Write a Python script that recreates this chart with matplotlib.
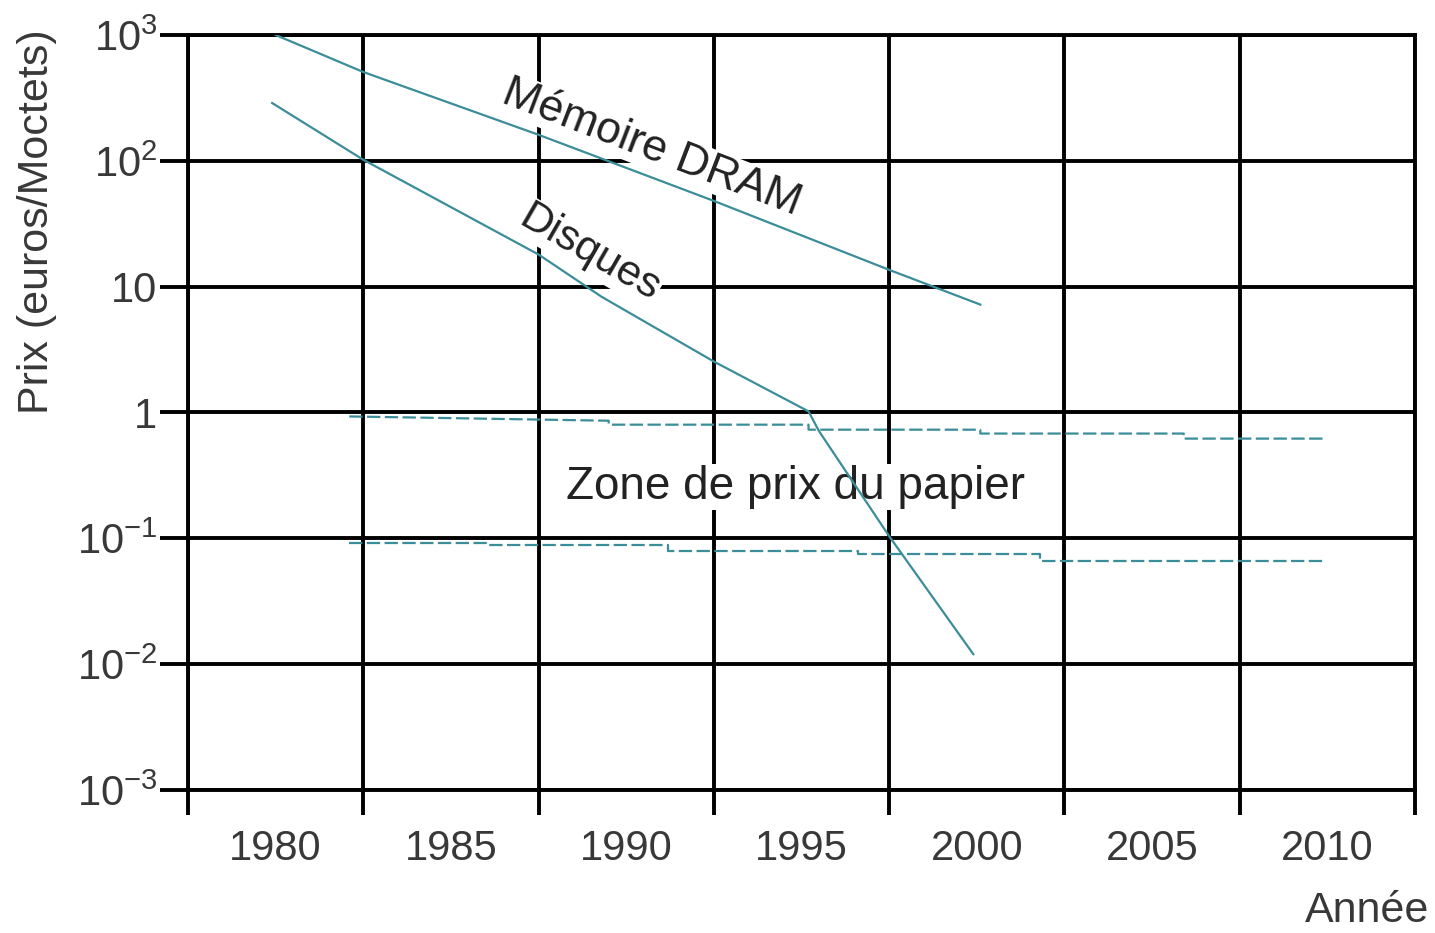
import matplotlib
matplotlib.use('Agg')
import matplotlib.pyplot as plt
from matplotlib.ticker import FixedLocator, NullLocator

plt.rcParams['font.family'] = ['Liberation Sans', 'DejaVu Sans']

# Mémoire DRAM (euros/Moctets)
dram_annees = [1980.0, 1982.5, 1987.5, 1992.5, 1997.5, 2000.1]
dram_prix = [1000, 508, 161, 48, 13.6, 7.2]

# Disques
disq_annees = [1979.9, 1982.5, 1987.5, 1989.3, 1992.5, 1995.2, 1995.5, 1997.5, 1999.9]
disq_prix = [288, 102, 18, 8.3, 2.54, 1.02, 0.71, 0.104, 0.012]

# Zone de prix du papier : limites haute et basse
pap_haut_annees = [1982.1, 1989.5, 1989.5, 1995.2, 1995.2, 2000.1, 2000.1, 2005.9, 2005.9, 2009.9]
pap_haut_prix = [0.93, 0.86, 0.80, 0.80, 0.73, 0.73, 0.68, 0.68, 0.62, 0.62]
pap_bas_annees = [1982.1, 1986.0, 1986.0, 1991.2, 1991.2, 1996.6, 1996.6, 2001.8, 2001.8, 2009.9]
pap_bas_prix = [0.091, 0.091, 0.088, 0.088, 0.079, 0.079, 0.075, 0.075, 0.066, 0.066]

annees_labels = [1980, 1985, 1990, 1995, 2000, 2005, 2010]
grille_x = [1977.5, 1982.5, 1987.5, 1992.5, 1997.5, 2002.5, 2007.5, 2012.5]
prix_ticks = [1e-3, 1e-2, 1e-1, 1, 10, 1e2, 1e3]
prix_labels = ['$\\mathregular{10^{-3}}$', '$\\mathregular{10^{-2}}$', '$\\mathregular{10^{-1}}$',
               '1', '10', '$\\mathregular{10^{2}}$', '$\\mathregular{10^{3}}$']

couleur = '#3a8d99'
gris = '#383838'
H = 933  # hauteur en pixels, pour placer les étiquettes depuis le haut

fig = plt.figure(figsize=(14.35, 9.33), dpi=100)
ax = fig.add_axes([0.1310, 0.1533, 0.8551, 0.8092])

ax.set_yscale('log')
ax.set_xlim(1977.5, 2012.5)
ax.set_ylim(1e-3, 1e3)

ax.plot(dram_annees, dram_prix, color=couleur, lw=1.6, zorder=4)
ax.plot(disq_annees, disq_prix, color=couleur, lw=1.6, zorder=4)
ax.plot(pap_haut_annees, pap_haut_prix, color=couleur, lw=1.6, ls=(0, (6, 2)), zorder=4)
ax.plot(pap_bas_annees, pap_bas_prix, color=couleur, lw=1.6, ls=(0, (6, 2)), zorder=4)

# grille et graduations
ax.xaxis.set_major_locator(FixedLocator(grille_x))
ax.xaxis.set_major_formatter(plt.NullFormatter())
ax.xaxis.set_minor_locator(FixedLocator(annees_labels))
ax.set_xticklabels([str(a) for a in annees_labels], minor=True)
ax.yaxis.set_major_locator(FixedLocator(prix_ticks))
ax.yaxis.set_minor_locator(NullLocator())
ax.set_yticklabels(prix_labels)

ax.set_axisbelow(True)
ax.grid(True, which='major', color='black', lw=2.8)
ax.tick_params(axis='x', which='major', length=18, width=2.8, color='black', direction='out')
ax.tick_params(axis='x', which='minor', length=0, pad=28, labelsize=30, labelcolor=gris)
ax.tick_params(axis='y', which='major', length=20, width=2.8, color='black', direction='out',
               pad=2, labelsize=30, labelcolor=gris)
for s in ax.spines.values():
    s.set_linewidth(2.8)
    s.set_color('black')

# étiquettes
boite = dict(facecolor='white', edgecolor='none', pad=0.5)
ax.annotate('Mémoire DRAM', xy=(652, H - 148), xycoords='figure pixels',
            ha='center', va='center', rotation=-21, fontsize=32, color='#222222',
            bbox=boite, zorder=3)
ax.annotate('Disques', xy=(590, H - 253), xycoords='figure pixels',
            ha='center', va='center', rotation=-30, fontsize=31, color='#222222',
            bbox=boite, zorder=3)
ax.annotate('Zone de prix du papier', xy=(796, H - 487), xycoords='figure pixels',
            ha='center', va='center', fontsize=33, color='#222222',
            bbox=boite, zorder=3)

fig.text(0.026, 1 - 222 / H, 'Prix (euros/Moctets)', rotation=90, ha='center', va='center',
         fontsize=31, color=gris)
fig.text(0.996, 0.012, 'Année', ha='right', va='baseline', fontsize=31, color=gris)

fig.savefig('out.png', dpi=100, facecolor='white')
